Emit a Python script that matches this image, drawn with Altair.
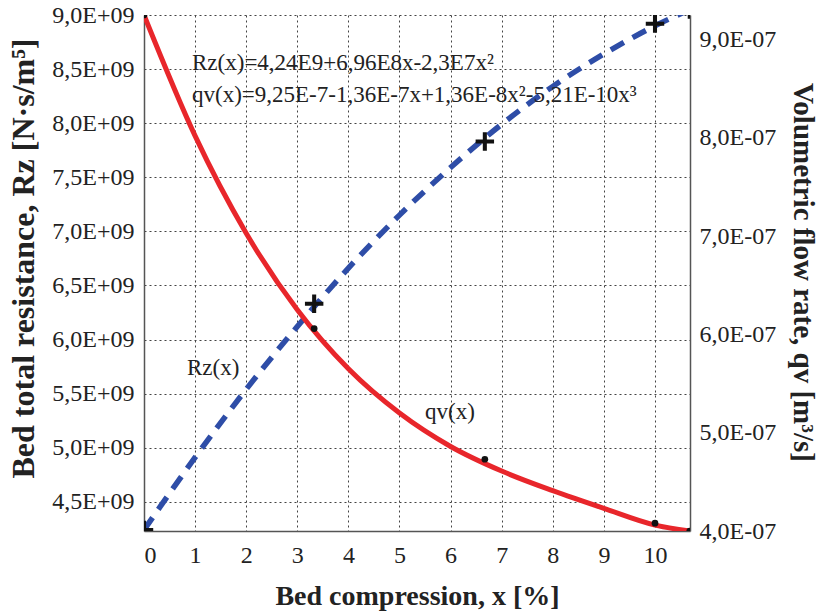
import altair as alt
import pandas as pd

# ---- data ----
x_curve = [0, 1, 2, 3, 4, 5, 6, 7, 8, 9, 10, 10.68]
rz_curve = [4.24e9, 4.91e9, 5.54e9, 6.12e9, 6.66e9, 7.15e9, 7.59e9, 7.99e9, 8.34e9, 8.64e9, 8.90e9, 9.05e9]
qv_curve = [9.25e-7, 8.02e-7, 7.03e-7, 6.25e-7, 5.65e-7, 5.20e-7, 4.86e-7, 4.61e-7, 4.41e-7, 4.23e-7, 4.06e-7, 4.00e-7]

x_meas = [0, 3.33, 6.67, 10, 10.68]
rz_meas = [4.24e9, 6.33e9, 7.83e9, 8.92e9, 9.05e9]
qv_meas = [9.25e-7, 6.06e-7, 4.73e-7, 4.08e-7, 4.00e-7]

x_ticks = list(range(0, 11))
rz_ticks = [4.5e9, 5.0e9, 5.5e9, 6.0e9, 6.5e9, 7.0e9, 7.5e9, 8.0e9, 8.5e9, 9.0e9]
qv_ticks = [4.0e-7, 5.0e-7, 6.0e-7, 7.0e-7, 8.0e-7, 9.0e-7]

ann_text = ["Rz(x)=4,24E9+6,96E8x-2,3E7x²",
            "qv(x)=9,25E-7-1,36E-7x+1,36E-8x²-5,21E-10x³",
            "Rz(x)", "qv(x)"]
ann_x = [0.94, 0.94, 0.84, 5.50]
ann_rz = [8.556e9, 8.26e9, 5.737e9, 5.33e9]

X_DOMAIN = [0, 10.685]
RZ_DOMAIN = [4.23e9, 9.0e9]
QV_DOMAIN = [4.0e-7, 9.25e-7]

FONT = "Liberation Serif"
RED = "#E8262B"
BLUE = "#2E4DA7"

curve = pd.DataFrame({"x": x_curve, "Rz": rz_curve, "qv": qv_curve})
meas = pd.DataFrame({"x": x_meas, "Rz": rz_meas, "qv": qv_meas})
ann = pd.DataFrame({"x": ann_x, "Rz": ann_rz, "t": ann_text})

x_enc = alt.X("x:Q", scale=alt.Scale(domain=X_DOMAIN, nice=False, zero=False),
              axis=alt.Axis(values=x_ticks, format="d", title="Bed compression, x [%]",
                            grid=True, gridDash=[2, 3], gridColor="#444", gridWidth=1,
                            tickSize=0, labelPadding=12, domainColor="#555", domainWidth=1.5,
                            titleY=65, titleBaseline="middle", titleFontSize=28))

rz_axis = alt.Axis(values=rz_ticks,
                   labelExpr="replace(format(datum.value/1e9,'.1f'),'.',',')+'E+09'",
                   title="Bed total resistance, Rz [N·s/m⁵]",
                   grid=True, gridDash=[2, 3], gridColor="#444", gridWidth=1,
                   tickSize=0, labelPadding=10, domainColor="#555", domainWidth=1.5,
                   titleX=-121, titleY=243, titleAngle=-90, titleAlign="center",
                   titleBaseline="middle", titleFontSize=32)
qv_axis = alt.Axis(values=qv_ticks, orient="right",
                   labelExpr="replace(format(datum.value*1e7,'.1f'),'.',',')+'E-07'",
                   title="Volumetric flow rate, qv [m³/s]",
                   grid=False, tickSize=0, labelPadding=9, domainColor="#555", domainWidth=1.5,
                   titleX=112, titleY=257, titleAngle=90, titleAlign="center",
                   titleBaseline="middle", titleFontSize=29)

rz_y = alt.Y("Rz:Q", scale=alt.Scale(domain=RZ_DOMAIN, nice=False, zero=False), axis=rz_axis)
qv_y = alt.Y("qv:Q", scale=alt.Scale(domain=QV_DOMAIN, nice=False, zero=False), axis=qv_axis)

plus_shape = "M-1,-0.22H1V0.22H-1Z M-0.22,-1H0.22V1H-0.22Z"

rz_line = alt.Chart(curve).mark_line(color=BLUE, strokeWidth=5.5, strokeDash=[15, 10],
                                      interpolate="monotone", clip=True).encode(x=x_enc, y=rz_y)
rz_pts = alt.Chart(meas).mark_point(shape=plus_shape, filled=True, color="#111", opacity=1,
                                     size=340, clip=True).encode(x=x_enc, y=rz_y)
texts = alt.Chart(ann).mark_text(align="left", baseline="middle", font=FONT, fontSize=23,
                                  color="#222").encode(x=x_enc, y=rz_y, text="t:N")

qv_line = alt.Chart(curve).mark_line(color=RED, strokeWidth=5, interpolate="monotone",
                                      clip=True).encode(x=x_enc, y=qv_y)
qv_pts = alt.Chart(meas).mark_point(shape="circle", filled=True, color="#111", opacity=1,
                                     size=45, clip=True).encode(x=x_enc, y=qv_y)

left = alt.layer(rz_line, rz_pts, texts)
right = alt.layer(qv_line, qv_pts)

chart = (alt.layer(left, right)
         .resolve_scale(y="independent")
         .properties(width=546, height=516, autosize="none",
                     padding={"left": 144, "top": 15, "right": 134, "bottom": 83})
         .configure_view(strokeWidth=0)
         .configure_axis(labelFont=FONT, labelFontSize=24, labelColor="#222",
                         titleFont=FONT, titleFontWeight="bold", titleColor="#222"))

chart.save("out.html", embed_options={"renderer": "svg", "actions": False})
